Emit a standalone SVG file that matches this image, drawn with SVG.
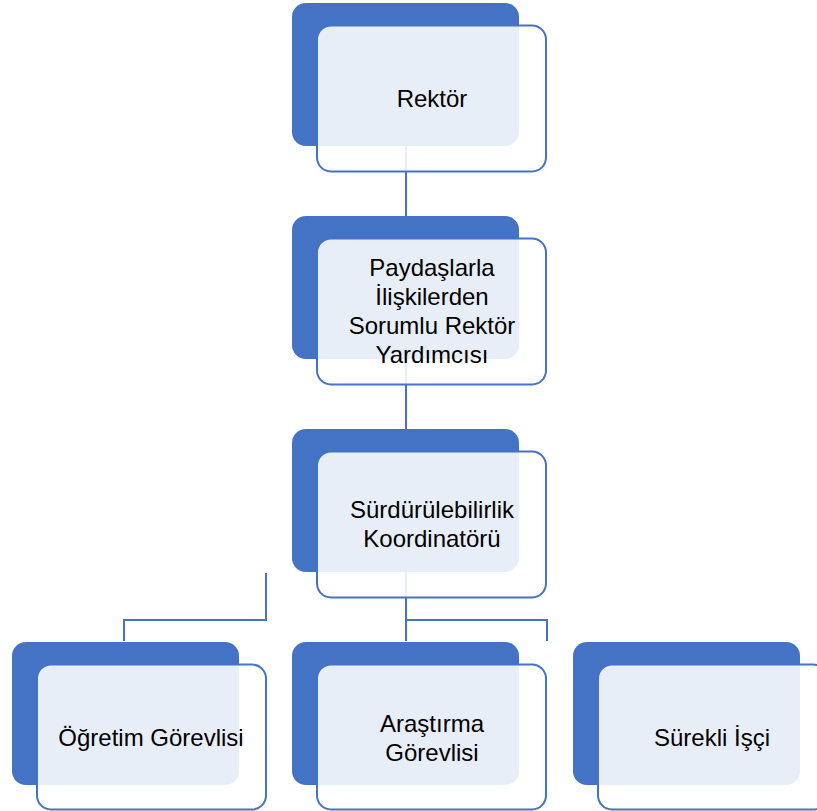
<svg xmlns="http://www.w3.org/2000/svg" width="817" height="811" viewBox="0 0 817 811">
  <style>
    .back { fill: #4472C4; }
    .front { fill: #FFFFFF; fill-opacity: 0.88; stroke: #4472C4; stroke-width: 2; }
    .conn { fill: none; stroke: #4472C4; stroke-width: 2; }
    .lbl { font-family: "Liberation Sans", Arial, sans-serif; font-size: 24px; fill: #000000; text-anchor: middle; }
  </style>
  <rect width="817" height="811" fill="#FFFFFF"/>
  <g id="connectors">
    <path class="conn" d="M406 146 V216"/>
    <path class="conn" d="M406 359 V429"/>
    <path class="conn" d="M406 572 V641"/>
    <path class="conn" d="M406 620 H547 V641"/>
    <path class="conn" d="M266 573 V620 H124 V641"/>
  </g>
  <g id="node-rektor">
    <rect class="back" x="292" y="3" width="227" height="143" rx="14"/>
    <rect class="front" x="317" y="25.5" width="229" height="146" rx="14"/>
    <text class="lbl" x="432" y="107">Rektör</text>
  </g>
  <g id="node-rektor-yardimcisi">
    <rect class="back" x="292" y="216" width="227" height="143" rx="14"/>
    <rect class="front" x="317" y="238.5" width="229" height="146" rx="14"/>
    <text class="lbl" x="432" y="276">Paydaşlarla</text>
    <text class="lbl" x="432" y="305">İlişkilerden</text>
    <text class="lbl" x="432" y="334">Sorumlu Rektör</text>
    <text class="lbl" x="432" y="363">Yardımcısı</text>
  </g>
  <g id="node-koordinator">
    <rect class="back" x="292" y="429" width="227" height="143" rx="14"/>
    <rect class="front" x="317" y="451.5" width="229" height="146" rx="14"/>
    <text class="lbl" x="432" y="518">Sürdürülebilirlik</text>
    <text class="lbl" x="432" y="547">Koordinatörü</text>
  </g>
  <g id="node-ogretim-gorevlisi">
    <rect class="back" x="12" y="642" width="227" height="143" rx="14"/>
    <rect class="front" x="37" y="664.5" width="229" height="145" rx="14"/>
    <text class="lbl" x="151" y="746">Öğretim Görevlisi</text>
  </g>
  <g id="node-arastirma-gorevlisi">
    <rect class="back" x="292" y="642" width="227" height="143" rx="14"/>
    <rect class="front" x="317" y="664.5" width="229" height="145" rx="14"/>
    <text class="lbl" x="432" y="732">Araştırma</text>
    <text class="lbl" x="432" y="761">Görevlisi</text>
  </g>
  <g id="node-surekli-isci">
    <rect class="back" x="573" y="642" width="227" height="143" rx="14"/>
    <rect class="front" x="598" y="664.5" width="229" height="145" rx="14"/>
    <text class="lbl" x="712" y="746">Sürekli İşçi</text>
  </g>
</svg>
